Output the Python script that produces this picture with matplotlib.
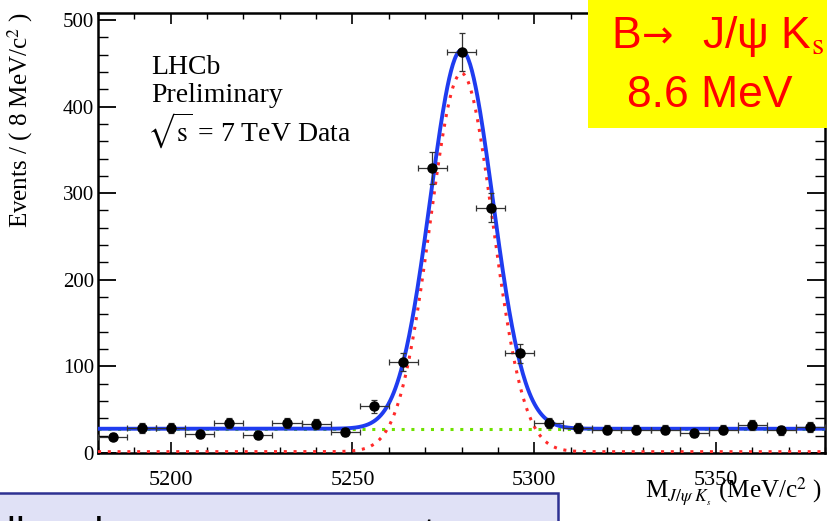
import numpy as np
import matplotlib
matplotlib.use('Agg')
import matplotlib.pyplot as plt
from matplotlib.patches import Rectangle
from matplotlib.ticker import MultipleLocator

plt.rcParams['font.family'] = ['Liberation Serif', 'DejaVu Serif']
plt.rcParams['mathtext.fontset'] = 'stix'

# data (8 MeV bins)
mass = [5184, 5192, 5200, 5208, 5216, 5224, 5232, 5240, 5248, 5256,
        5264, 5272, 5280, 5288, 5296, 5304, 5312, 5320, 5328, 5336,
        5344, 5352, 5360, 5368, 5376]
events = [19, 29, 29, 22, 35, 21, 35, 34, 24, 54,
          105, 329, 463, 283, 115, 35, 29, 27, 27, 27,
          23, 27, 32, 26, 30]
bin_width = 8

# fit parameters
fit_mean = 5280.0
fit_sigma = 8.6
fit_peak = 437.0
fit_bkg = 28.0

W, H = 827, 521
sans = ['Liberation Sans', 'DejaVu Sans']

fig = plt.figure(figsize=(W / 100, H / 100), dpi=100)
ax = fig.add_axes([98 / W, 1 - 453 / H, (825 - 98) / W, (453 - 13) / H])

xs = np.linspace(5180, 5380, 800)
sig = fit_peak * np.exp(-0.5 * ((xs - fit_mean) / fit_sigma) ** 2)
bkg = np.full_like(xs, fit_bkg)

ax.plot(xs, bkg, ls=(0, (1, 2.2)), color='#6fe000', lw=2.2, zorder=2)
ax.plot(xs, sig + 1.5, ls=(0, (1, 2.2)), color='#ff2a2a', lw=2.2, zorder=3)
ax.plot(xs, sig + bkg, '-', color='#1f3cf0', lw=2.8, zorder=4)

err = np.sqrt(events)
ax.errorbar(mass, events, yerr=err, xerr=bin_width / 2, fmt='o', color='black',
            ms=6.5, elinewidth=0.9, capsize=2, capthick=0.9, ecolor='#333333', zorder=5)

ax.set_xlim(5180, 5380)
ax.set_ylim(0, 508)
ax.xaxis.set_major_locator(MultipleLocator(50))
ax.xaxis.set_minor_locator(MultipleLocator(10))
ax.yaxis.set_major_locator(MultipleLocator(100))
ax.yaxis.set_minor_locator(MultipleLocator(20))
ax.tick_params(axis='x', which='major', direction='in', length=8, width=1.2,
               top=True, labelsize=16, pad=13)
ax.tick_params(axis='x', which='minor', direction='in', length=4, width=1, top=True)
ax.tick_params(axis='y', which='major', direction='in', length=13, width=1.3,
               right=True, labelsize=15, pad=3)
ax.tick_params(axis='y', which='minor', direction='in', length=7, width=1, right=True)
for s in ax.spines.values():
    s.set_linewidth(1.8)

fig.text(20 / W, 1 - 12 / H, r'Events / ( 8 MeV/c$^{2}$ )', rotation=90,
         ha='center', va='top', fontsize=18)
fig.text(822 / W, 1 - 499 / H, r'M$_{J/\psi\ K_{_s}}$ (MeV/c$^{2}$ )',
         ha='right', va='baseline', fontsize=18)

fig.text(151 / W, 1 - 74 / H, 'LHCb', fontsize=20)
fig.text(151 / W, 1 - 102 / H, 'Preliminary', fontsize=20)
fig.text(147 / W, 1 - 142 / H, r'$\sqrt{\mathrm{s}}$ = 7 TeV Data', fontsize=20)

# yellow label box top right
fig.add_artist(Rectangle((588 / W, 1 - 128 / H), 0.4, 0.4, transform=fig.transFigure,
                         facecolor='#ffff00', edgecolor='none', zorder=10))
fig.text(611 / W, 1 - 48 / H, 'B', color='#ff0000', fontsize=32, family=sans, zorder=11)
fig.text(642 / W, 1 - 47 / H, '\u2192', color='#ff0000', fontsize=27,
         family=['DejaVu Sans'], zorder=11)
fig.text(702 / W, 1 - 48 / H, 'J/\u03c8 K$_{\\mathrm{s}}$', color='#ff0000',
         fontsize=32, family=sans, zorder=11)
fig.text(627 / W, 1 - 107 / H, '8.6 MeV', color='#ff0000', fontsize=32,
         family=sans, zorder=11)

# lavender text box at the bottom (cut off)
fig.add_artist(Rectangle((-0.05, -0.2), 558 / W + 0.05, 0.2 + 28 / H,
                         transform=fig.transFigure, facecolor='#e0e1f6',
                         edgecolor='#2e3192', lw=1.8, zorder=10))
fig.text(-76 / W, 1 - 546.5 / H, 'Small and narrow as seen at once', fontsize=29,
         family=sans, zorder=11)

fig.savefig('out.png', dpi=100)
